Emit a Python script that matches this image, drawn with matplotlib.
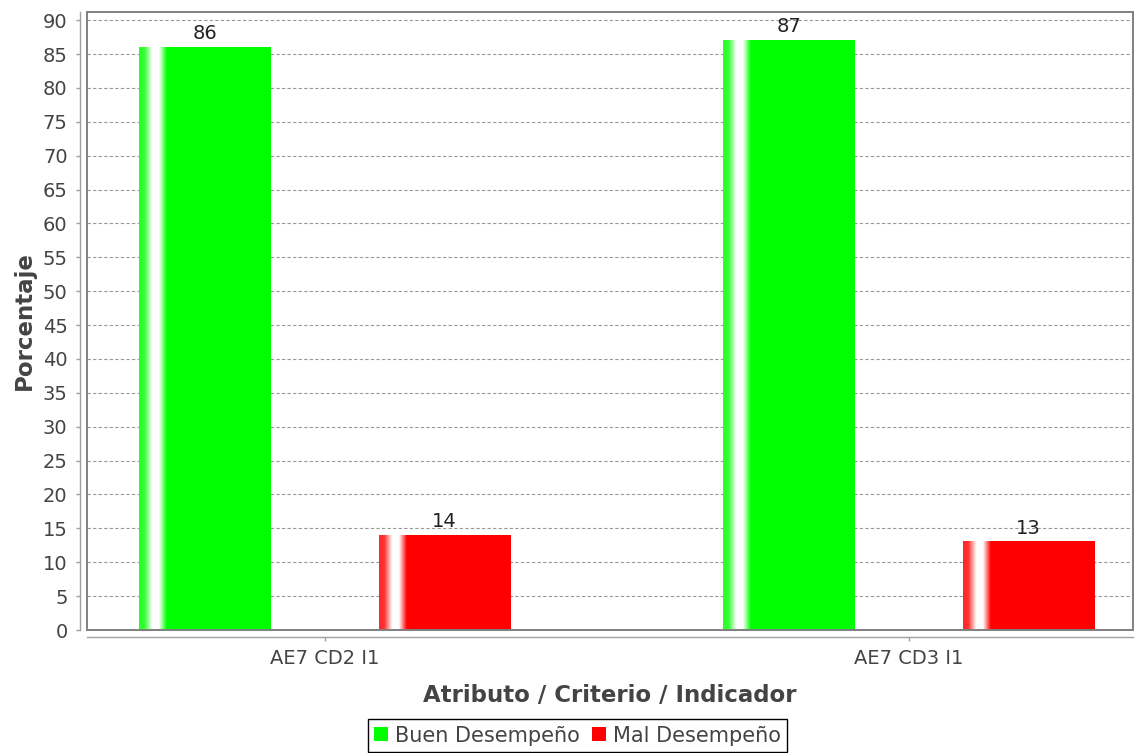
import numpy as np
import matplotlib
matplotlib.use("Agg")
import matplotlib.pyplot as plt
from matplotlib.patches import Rectangle
import matplotlib.colors as mcolors

# Datos
categorias = ['AE7 CD2 I1', 'AE7 CD3 I1']
buen_desempeno = [86, 87]
mal_desempeno = [14, 13]
series = ['Buen Desempeño', 'Mal Desempeño']
colores = ['#00ff00', '#ff0000']

plt.rcParams['font.family'] = 'DejaVu Sans'

fig = plt.figure(figsize=(11.35, 7.53), dpi=100)
ax = fig.add_axes([87 / 1135, 1 - 630 / 753, 1046 / 1135, 618 / 753])

x = np.arange(len(categorias))
ancho = 0.226
desplaz = 0.205


def barra_gradiente(ax, barras, color):
    # brillo blanco cerca del borde izquierdo, como en JFreeChart
    t = np.linspace(0, 1, 300)
    w = np.interp(t, [0, 0.04, 0.10, 0.15, 0.21, 1], [0.15, 0.2, 1, 1, 0, 0])
    c = np.array(mcolors.to_rgb(color))
    img = (1 - w)[:, None] * c + w[:, None] * np.ones(3)
    img = img[None, :, :]
    for b in barras:
        x0, y0 = b.get_x(), b.get_y()
        ax.imshow(img, extent=[x0, x0 + b.get_width(), y0, y0 + b.get_height()],
                  aspect='auto', interpolation='bilinear', zorder=3)


b1 = ax.bar(x - desplaz, buen_desempeno, ancho, color=colores[0], label=series[0], zorder=2)
b2 = ax.bar(x + desplaz, mal_desempeno, ancho, color=colores[1], label=series[1], zorder=2)
barra_gradiente(ax, b1, colores[0])
barra_gradiente(ax, b2, colores[1])

for barras, vals in [(b1, buen_desempeno), (b2, mal_desempeno)]:
    for b, v in zip(barras, vals):
        ax.annotate(str(v), (b.get_x() + b.get_width() / 2, v), xytext=(0, 3),
                    textcoords='offset points', ha='center', va='bottom',
                    fontsize=14, color='#222222', zorder=5)

ax.set_xlim(-0.4075, 1.3836)
ax.set_ylim(0, 91.2)
ax.set_yticks(np.arange(0, 91, 5))
ax.set_xticks(x)
ax.set_xticklabels(categorias)

ax.grid(axis='y', color='#999999', linestyle=(0, (3, 2)), linewidth=0.8, zorder=1)
ax.set_axisbelow(True)

# ejes separados del area del grafico
for s in ['top', 'right']:
    ax.spines[s].set_visible(False)
for s in ['left', 'bottom']:
    ax.spines[s].set_position(('outward', 5))
    ax.spines[s].set_color('#a0a0a0')
    ax.spines[s].set_linewidth(1)
ax.add_patch(Rectangle((0, 0), 1, 1, transform=ax.transAxes, fill=False,
                       ec='#808080', lw=1.4, clip_on=False, zorder=6))

ax.tick_params(axis='both', colors='#a0a0a0', labelcolor='#444444',
               labelsize=14, length=3, width=1)
ax.tick_params(axis='y', pad=6)
ax.tick_params(axis='x', pad=6)

ax.set_ylabel('Porcentaje', fontsize=16.5, fontweight='bold', color='#444444', labelpad=5)
ax.set_xlabel('Atributo / Criterio / Indicador', fontsize=16.5, fontweight='bold',
              color='#444444', labelpad=11)

leg = fig.legend(handles=[b1, b2], labels=series, loc='lower center',
                 bbox_to_anchor=(0.509, 0.0), ncol=2, fontsize=15,
                 handlelength=0.65, handleheight=0.65, handletextpad=0.35,
                 columnspacing=0.6, borderpad=0.3, borderaxespad=0.05,
                 fancybox=False, framealpha=1, edgecolor='black')
leg.get_frame().set_linewidth(1)
for t in leg.get_texts():
    t.set_color('#444444')

fig.savefig('out.png', dpi=100)
